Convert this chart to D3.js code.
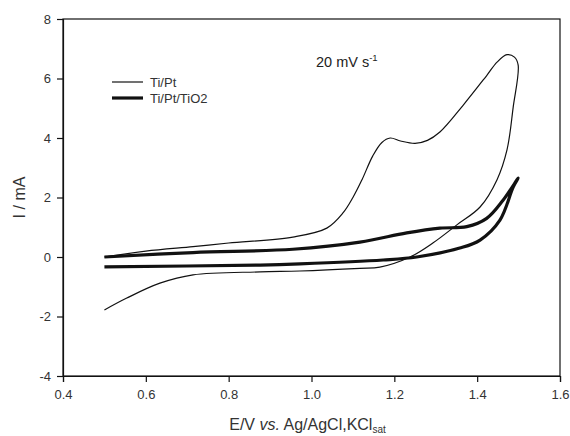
<html>
<head>
  <meta charset="utf-8">
  <script src="https://d3js.org/d3.v7.min.js"></script>
  <style>
    body { margin: 0; background: white; }
    text { font-family: "Liberation Sans", Arial, sans-serif; }
  </style>
</head>
<body>
  <svg id="cv" width="570" height="436"></svg>
  <script>
    // Ti/Pt : anodic branch from 0.5 V, turn at 1.5 V, back to 0.5 V
    const tiPtE = [0.5, 0.6, 0.714, 0.8, 0.955, 1.037, 1.076, 1.1, 1.122, 1.148, 1.17, 1.19, 1.215, 1.25, 1.28, 1.31, 1.366, 1.423, 1.448, 1.472, 1.49, 1.499,
                   1.487, 1.472, 1.448, 1.407, 1.351, 1.293, 1.238, 1.165, 1.117, 0.972, 0.876, 0.714, 0.634, 0.554, 0.5];
    const tiPtI = [0.0, 0.2, 0.35, 0.47, 0.67, 0.97, 1.48, 2.0, 2.6, 3.4, 3.85, 4.0, 3.9, 3.82, 3.92, 4.2, 5.1, 6.1, 6.55, 6.8, 6.72, 6.45,
                   5.04, 3.6, 2.6, 1.68, 1.08, 0.47, 0.0, -0.34, -0.38, -0.47, -0.5, -0.6, -0.88, -1.38, -1.78];

    // Ti/Pt/TiO2
    const tio2E = [0.5, 0.714, 0.955, 1.117, 1.23, 1.31, 1.375, 1.423, 1.462, 1.499,
                   1.487, 1.455, 1.407, 1.358, 1.254, 1.173, 0.972, 0.876, 0.5];
    const tio2I = [0.0, 0.15, 0.26, 0.5, 0.81, 0.97, 1.02, 1.3, 1.9, 2.65,
                   2.35, 1.24, 0.57, 0.3, 0.0, -0.1, -0.23, -0.27, -0.33];

    const xTicks = [0.4, 0.6, 0.8, 1.0, 1.2, 1.4, 1.6];
    const yTicks = [-4, -2, 0, 2, 4, 6, 8];

    const svg = d3.select('#cv');
    const mLeft = 63, mRight = 560, mTop = 19, mBottom = 376;

    const x = d3.scaleLinear().domain([0.4, 1.6]).range([mLeft, mRight]);
    const y = d3.scaleLinear().domain([-4, 8]).range([mBottom, mTop]);

    // frame
    svg.append('rect')
      .attr('x', mLeft).attr('y', mTop)
      .attr('width', mRight - mLeft).attr('height', mBottom - mTop)
      .attr('fill', 'none').attr('stroke', '#111').attr('stroke-width', 1.2);

    const xAxis = svg.append('g')
      .attr('transform', `translate(0,${mBottom})`)
      .call(d3.axisBottom(x).tickValues(xTicks).tickFormat(d => d.toFixed(1)).tickSizeOuter(0).tickSize(6).tickPadding(8));
    const yAxis = svg.append('g')
      .attr('transform', `translate(${mLeft},0)`)
      .call(d3.axisLeft(y).tickValues(yTicks).tickFormat(d => String(d)).tickSizeOuter(0).tickSize(6).tickPadding(6));

    [xAxis, yAxis].forEach(g => {
      g.select('.domain').attr('stroke', '#111').attr('stroke-width', 1.2);
      g.selectAll('.tick line').attr('stroke', '#111').attr('stroke-width', 1.2);
      g.selectAll('.tick text')
        .attr('fill', '#333')
        .style('font-size', '13px')
        .style('font-family', '"Liberation Sans", Arial, sans-serif');
    });

    const line = d3.line()
      .x(d => x(d[0]))
      .y(d => y(d[1]))
      .curve(d3.curveCatmullRom.alpha(0.5));

    const tiPt = tiPtE.map((e, i) => [e, tiPtI[i]]);
    const tio2 = tio2E.map((e, i) => [e, tio2I[i]]);

    svg.append('path').datum(tio2)
      .attr('d', line).attr('fill', 'none')
      .attr('stroke', '#111').attr('stroke-width', 3.2).attr('stroke-linejoin', 'round');
    svg.append('path').datum(tiPt)
      .attr('d', line).attr('fill', 'none')
      .attr('stroke', '#111').attr('stroke-width', 1.2).attr('stroke-linejoin', 'round');

    // legend
    const legend = [['Ti/Pt', 1.2, 82], ['Ti/Pt/TiO2', 3.2, 98]];
    legend.forEach(([label, w, ly]) => {
      svg.append('line')
        .attr('x1', 112).attr('x2', 143).attr('y1', ly).attr('y2', ly)
        .attr('stroke', '#111').attr('stroke-width', w);
      svg.append('text')
        .attr('x', 150).attr('y', ly + 4.5)
        .attr('fill', '#333').style('font-size', '13px')
        .text(label);
    });

    // scan rate note
    const note = svg.append('text').attr('x', 316).attr('y', 67)
      .attr('fill', '#222').style('font-size', '14.5px');
    note.append('tspan').text('20 mV s');
    note.append('tspan').attr('dy', -6).style('font-size', '9.5px').text('-1');

    // axis titles
    svg.append('text')
      .attr('transform', `translate(25,${(mTop + mBottom) / 2}) rotate(-90)`)
      .attr('text-anchor', 'middle')
      .attr('fill', '#333').style('font-size', '16px')
      .text('I / mA');

    const xt = svg.append('text')
      .attr('x', (mLeft + mRight) / 2 - 4).attr('y', 430)
      .attr('text-anchor', 'middle')
      .attr('fill', '#333').style('font-size', '16px');
    xt.append('tspan').text('E/V ');
    xt.append('tspan').style('font-style', 'italic').text('vs.');
    xt.append('tspan').text(' Ag/AgCl,KCl');
    xt.append('tspan').attr('dy', 3).style('font-size', '10px').text('sat');
  </script>
</body>
</html>
